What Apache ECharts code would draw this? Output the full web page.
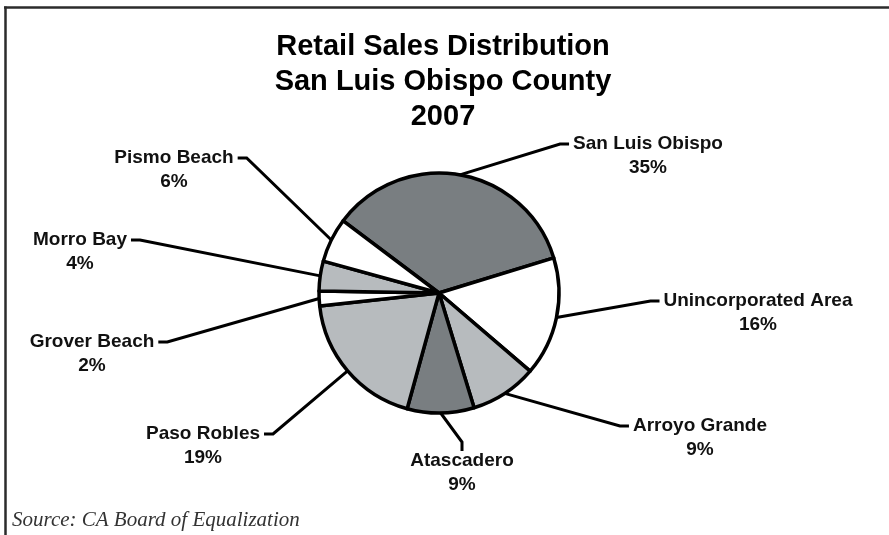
<!DOCTYPE html>
<html>
<head>
<meta charset="utf-8">
<title>Retail Sales Distribution</title>
<script src="https://cdn.jsdelivr.net/npm/echarts@6/dist/echarts.min.js"></script>
<style>
    html, body { margin: 0; padding: 0; background: #fff; }
    #salesPie_report_id { width: 889px; height: 535px; }
</style>
</head>
<body>
<div id="salesPie_report_id"></div>
<script>
// slices, clockwise from the top-left
var regions = ['San Luis Obispo', 'Unincorporated Area', 'Arroyo Grande', 'Atascadero',
               'Paso Robles', 'Grover Beach', 'Morro Bay', 'Pismo Beach'];
var shares = [35, 16, 9, 9, 19, 2, 4, 6];

// label placement: centre x, middle of the name line, side of the pie the label sits on
var labelSpots = [
    [648, 144, 'right'],
    [758, 301, 'right'],
    [700, 426, 'right'],
    [462, 461, 'below'],
    [203, 434, 'left'],
    [92, 342, 'left'],
    [80, 240, 'left'],
    [174, 158, 'left']
];
var sliceColors = ['#797e81', '#ffffff', '#b7bbbe', '#797e81', '#b7bbbe', '#ffffff', '#b7bbbe', '#ffffff'];

var fontSans = 'Liberation Sans, Arial, Helvetica, sans-serif';

function initChart() {
    var myChart = echarts.init(document.getElementById('salesPie_report_id'));
    var datas = [];
    for (var i = 0, lens = regions.length; i < lens; i++) {
        datas[i] = {name: regions[i], value: shares[i], itemStyle: {color: sliceColors[i]}};
    }
    var option = {
        backgroundColor: '#fff',
        animation: false,
        title: {
            text: 'Retail Sales Distribution\nSan Luis Obispo County\n2007',
            left: 438,
            top: 24,
            textAlign: 'center',
            textStyle: {
                fontFamily: fontSans,
                fontSize: 29,
                fontWeight: 'bold',
                lineHeight: 35,
                color: '#000'
            }
        },
        graphic: [
            {type: 'line', shape: {x1: 4, y1: 7.5, x2: 889, y2: 7.5}, style: {stroke: '#2b2b2b', lineWidth: 2.5}},
            {type: 'line', shape: {x1: 5.5, y1: 6.5, x2: 5.5, y2: 535}, style: {stroke: '#2b2b2b', lineWidth: 2.5}},
            {
                type: 'text', left: 12, top: 510,
                style: {
                    text: 'Source: CA Board of Equalization',
                    font: 'italic 21px "Liberation Serif", "Times New Roman", serif',
                    fill: '#333'
                }
            }
        ],
        series: [{
            type: 'pie',
            silent: true,
            center: [439, 293],
            radius: 120,
            startAngle: 143,
            clockwise: true,
            avoidLabelOverlap: false,
            data: datas,
            itemStyle: {borderColor: '#000', borderWidth: 3.5},
            label: {
                show: true,
                position: 'outside',
                formatter: '{n|{b}}\n{n|{c}%}',
                rich: {
                    n: {fontFamily: fontSans, fontSize: 19, fontWeight: 'bold', lineHeight: 24, color: '#111'}
                }
            },
            labelLine: {
                show: true,
                length: 20,
                length2: 10,
                lineStyle: {color: '#000', width: 3}
            },
            labelLayout: function (params) {
                var spot = labelSpots[params.dataIndex];
                var half = params.labelRect.width / 2;
                var p0 = params.labelLinePoints ? params.labelLinePoints[0] : [spot[0], spot[1]];
                var cx = spot[0], cy = spot[1], edge, pts;
                if (spot[2] === 'right') {
                    edge = cx - half - 4;
                    pts = [p0, [edge - 9, cy], [edge, cy]];
                } else if (spot[2] === 'left') {
                    edge = cx + half + 4;
                    pts = [p0, [edge + 9, cy], [edge, cy]];
                } else {
                    pts = [p0, [cx, cy - 19], [cx, cy - 10]];
                }
                return {x: cx, y: cy - 12, align: 'center', verticalAlign: 'top', labelLinePoints: pts};
            }
        }]
    };
    myChart.setOption(option, true);
}

initChart();
</script>
</body>
</html>
